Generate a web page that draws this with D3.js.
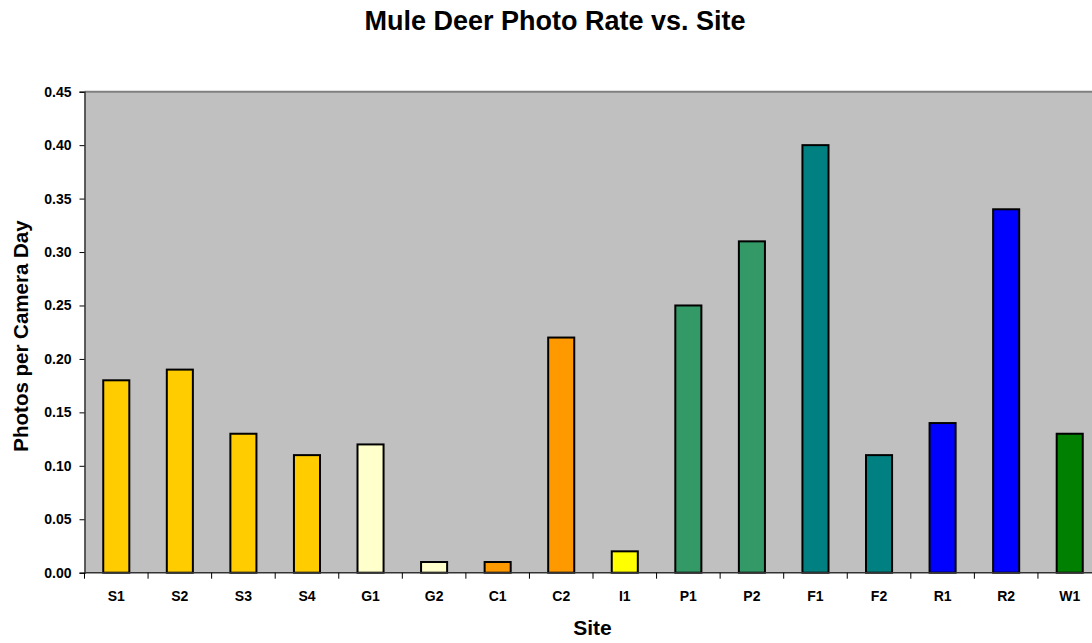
<!DOCTYPE html>
<html>
<head>
<meta charset="utf-8">
<script src="https://cdn.jsdelivr.net/npm/d3@7/dist/d3.min.js"></script>
<style>
  html, body { margin: 0; padding: 0; background: #fff; }
  svg { display: block; font-family: "Liberation Sans", Arial, sans-serif; }
</style>
</head>
<body>
<svg id="chart" width="1092" height="643"></svg>
<script>
// Mule deer photo rate per camera day, by site
const sites = ["S1","S2","S3","S4","G1","G2","C1","C2","I1","P1","P2","F1","F2","R1","R2","W1"];
const rates = [0.18,0.19,0.13,0.11,0.12,0.01,0.01,0.22,0.02,0.25,0.31,0.40,0.11,0.14,0.34,0.13];
const siteColors = ["#FFCC00","#FFCC00","#FFCC00","#FFCC00","#FFFFCC","#FFFFCC","#FF9900","#FF9900",
                    "#FFFF00","#339966","#339966","#008080","#008080","#0000FF","#0000FF","#008000"];
const yTicks = [0,0.05,0.10,0.15,0.20,0.25,0.30,0.35,0.40,0.45];

const svg = d3.select("#chart");
const plotLeft = 84.5, plotRight = 1101.5, plotTop = 91.7, plotBottom = 572.7;

const x = d3.scaleBand().domain(sites).range([plotLeft, plotRight]).paddingInner(0.59).paddingOuter(0.295);
const y = d3.scaleLinear().domain([0, 0.45]).range([plotBottom, plotTop]);

// plot background
svg.append("rect").attr("x", plotLeft).attr("y", plotTop)
  .attr("width", plotRight - plotLeft).attr("height", plotBottom - plotTop)
  .attr("fill", "#C0C0C0");
svg.append("line").attr("x1", plotLeft).attr("x2", plotRight).attr("y1", plotTop).attr("y2", plotTop)
  .attr("stroke", "#808080").attr("stroke-width", 2);

// bars
svg.append("g").selectAll("rect").data(sites).join("rect")
  .attr("x", d => x(d))
  .attr("y", (d, i) => y(rates[i]))
  .attr("width", x.bandwidth())
  .attr("height", (d, i) => y(0) - y(rates[i]))
  .attr("fill", (d, i) => siteColors[i])
  .attr("stroke", "#000").attr("stroke-width", 2);

// y axis
const yAxis = svg.append("g").attr("transform", `translate(${plotLeft},0)`)
  .call(d3.axisLeft(y).tickValues(yTicks).tickFormat(d3.format(".2f")).tickSize(5).tickPadding(8));
yAxis.select(".domain").attr("stroke", "#333").attr("stroke-width", 1.5);
yAxis.selectAll(".tick line").attr("stroke", "#000");
yAxis.selectAll("text").attr("font-size", 14).attr("font-weight", "bold").attr("fill", "#000")
  .attr("font-family", "'Liberation Sans', Arial, sans-serif");

// x axis with ticks between categories
const xAxis = svg.append("g").attr("transform", `translate(0,${plotBottom})`);
xAxis.append("line").attr("x1", plotLeft).attr("x2", plotRight).attr("stroke", "#333").attr("stroke-width", 1.5);
const step = x.step();
xAxis.selectAll("line.tk").data(d3.range(sites.length + 1)).join("line").attr("class", "tk")
  .attr("x1", i => plotLeft + i * step).attr("x2", i => plotLeft + i * step)
  .attr("y1", 0).attr("y2", 6).attr("stroke", "#000");
xAxis.selectAll("text").data(sites).join("text")
  .attr("x", d => x(d) + x.bandwidth() / 2).attr("y", 28.5)
  .attr("text-anchor", "middle").attr("font-size", 14).attr("font-weight", "bold")
  .text(d => d);

// titles
svg.append("text").attr("x", 555).attr("y", 30).attr("text-anchor", "middle")
  .attr("font-size", 27).attr("font-weight", "bold").text("Mule Deer Photo Rate vs. Site");
svg.append("text").attr("x", 592.5).attr("y", 635).attr("text-anchor", "middle")
  .attr("font-size", 21).attr("font-weight", "bold").text("Site");
svg.append("text").attr("transform", "translate(28,336) rotate(-90)").attr("text-anchor", "middle")
  .attr("font-size", 20.5).attr("font-weight", "bold").text("Photos per Camera Day");
</script>
</body>
</html>
